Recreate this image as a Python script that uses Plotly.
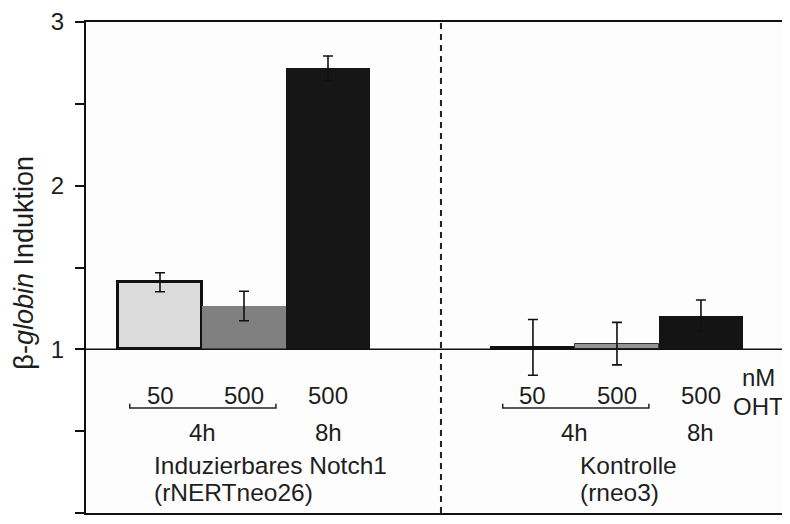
import plotly.graph_objects as go

# ---- data ----
positions = [0, 1, 2, 4.44, 5.44, 6.44]
values = [1.41, 1.265, 2.717, 1.012, 1.035, 1.205]
errors = [0.058, 0.09, 0.075, 0.17, 0.13, 0.096]
fill_colors = ["#dcdcdc", "#808080", "#161616", "#111111", "#959595", "#141414"]
line_colors = ["#111111", "#808080", "#161616", "#111111", "#333333", "#141414"]
line_widths = [3, 0, 0, 2, 1, 0]
conc_labels = ["50", "500", "500", "50", "500", "500"]
time_labels = ["4h", "8h"]
time_pos = [0.5, 2]
group_pos = [0, 4.44]
group_names = ["Induzierbares Notch1", "Kontrolle"]
group_lines = ["(rNERTneo26)", "(rneo3)"]
tick_vals = [0, 0.5, 1, 1.5, 2, 2.5, 3]
tick_text = ["0", "", "1", "", "2", "", "3"]
baseline = 1
divider_x = 3.345

FONT = "Liberation Sans, Arial, sans-serif"
TC = "#1e1e1e"
FS = 24
FS_G = 24.5

fig = go.Figure()
fig.add_trace(go.Bar(
    x=positions,
    y=[v - baseline for v in values],
    base=[baseline] * len(values),
    width=1.0,
    marker=dict(color=fill_colors, line=dict(color=line_colors, width=line_widths)),
    error_y=dict(type="data", array=errors, visible=True, color="#111111",
                 thickness=1.6, width=5),
    showlegend=False,
))

shapes = []
# baseline at 1
shapes.append(dict(type="line", xref="paper", yref="y", x0=0, x1=1, y0=baseline, y1=baseline,
                   line=dict(color="#111111", width=1.5), layer="above"))
# divider
shapes.append(dict(type="line", xref="x", yref="paper", x0=divider_x, x1=divider_x, y0=0, y1=1,
                   line=dict(color="#222222", width=2, dash="6px,5px")))
# brackets
for g in group_pos:
    xa, xb = g - 0.36, g + 1.38
    yb = 0.642
    shapes.append(dict(type="path",
                       path=f"M {xa},{yb + 0.025} L {xa},{yb} L {xb},{yb} L {xb},{yb + 0.025}",
                       xref="x", yref="y", line=dict(color="#222222", width=1.5)))

annotations = []
for p, t in zip(positions, conc_labels):
    annotations.append(dict(x=p, y=0.721, text=t, showarrow=False, xref="x", yref="y",
                            font=dict(family=FONT, size=FS, color=TC)))
for g in group_pos:
    for tp, tl in zip(time_pos, time_labels):
        annotations.append(dict(x=g + tp, y=0.489, text=tl, showarrow=False, xref="x", yref="y",
                                font=dict(family=FONT, size=FS, color=TC)))
for g, n1, n2 in zip(group_pos, group_names, group_lines):
    off = -0.1 if g == 0 else 0.535
    annotations.append(dict(x=g + off, y=0.29, text=n1, showarrow=False, xref="x", yref="y",
                            xanchor="left", font=dict(family=FONT, size=FS_G, color=TC)))
    annotations.append(dict(x=g + off, y=0.128, text=n2, showarrow=False, xref="x", yref="y",
                            xanchor="left", font=dict(family=FONT, size=FS_G, color=TC)))
annotations.append(dict(x=7.13, y=0.825, text="nM", showarrow=False, xref="x", yref="y",
                        font=dict(family=FONT, size=FS, color=TC)))
annotations.append(dict(x=7.13, y=0.648, text="OHT", showarrow=False, xref="x", yref="y",
                        font=dict(family=FONT, size=FS, color=TC)))
# y title
annotations.append(dict(x=-0.088, y=0.51, xref="paper", yref="paper", textangle=-90,
                        xanchor="center", yanchor="middle",
                        text="β-<i>globin</i> Induktion", showarrow=False,
                        font=dict(family=FONT, size=27, color=TC)))

# page body has an 8px default margin, so the figure is 8px smaller and margins shifted
fig.update_layout(
    width=782, height=516,
    margin=dict(l=78, r=0, t=14, b=11),
    paper_bgcolor="white", plot_bgcolor="#fdfdfd",
    shapes=shapes, annotations=annotations,
    bargap=0,
    xaxis=dict(range=[-0.881, 7.5], showgrid=False, zeroline=False, showticklabels=False,
               ticks="", showline=True, mirror=True, linecolor="#111111", linewidth=2),
    yaxis=dict(range=[0, 3], showgrid=False, zeroline=False, tickvals=tick_vals, ticktext=tick_text,
               ticks="outside", ticklen=9, tickwidth=1.5, tickcolor="#111111",
               showline=True, linecolor="#111111", linewidth=2,
               ticklabelstandoff=6,
               tickfont=dict(family=FONT, size=FS, color=TC)),
)

fig.write_html("out.html")
